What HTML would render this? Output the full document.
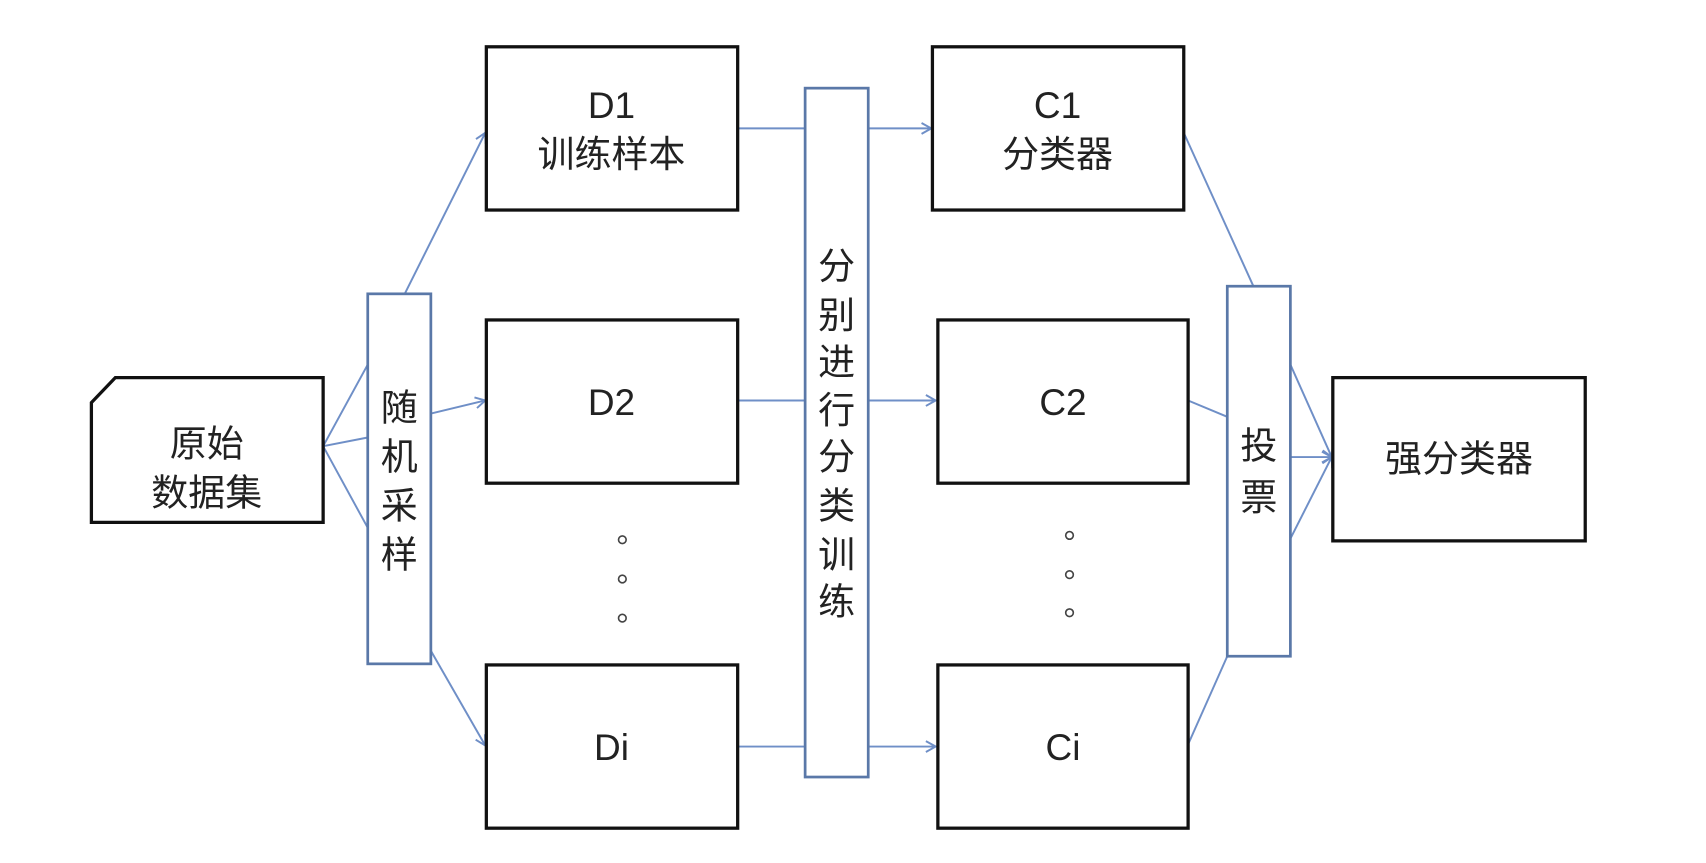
<!DOCTYPE html>
<html><head><meta charset="utf-8"><style>
html,body{margin:0;padding:0;background:#fff}
svg{display:block}
text{font-family:"Liberation Sans","Noto Sans CJK SC",sans-serif;fill:#222;text-anchor:middle;dominant-baseline:central}
</style></head><body>
<svg width="1706" height="863" viewBox="0 0 1568 793" preserveAspectRatio="none" xmlns="http://www.w3.org/2000/svg">
<defs><marker id="a" markerWidth="12" markerHeight="12" refX="10" refY="6" orient="auto" markerUnits="userSpaceOnUse"><path d="M1,1 L10,6 L1,11" fill="none" stroke="#6f8fc7" stroke-width="1.8"/></marker></defs>
<rect width="1568" height="793" fill="#fff"/>
<g stroke="#6f8fc7" stroke-width="1.8" fill="none">
<line x1="297" y1="410" x2="338" y2="335"/><line x1="297" y1="410" x2="338" y2="402"/><line x1="297" y1="410" x2="338" y2="485"/>
<line x1="372" y1="270" x2="446" y2="122" marker-end="url(#a)"/>
<line x1="396" y1="380" x2="446" y2="368" marker-end="url(#a)"/>
<line x1="396" y1="598" x2="446" y2="685" marker-end="url(#a)"/>
<line x1="678" y1="118" x2="740" y2="118"/><line x1="798" y1="118" x2="856" y2="118" marker-end="url(#a)"/>
<line x1="678" y1="368" x2="740" y2="368"/><line x1="798" y1="368" x2="860" y2="368" marker-end="url(#a)"/>
<line x1="678" y1="686" x2="740" y2="686"/><line x1="798" y1="686" x2="860" y2="686" marker-end="url(#a)"/>
<line x1="1088" y1="122" x2="1152" y2="263"/><line x1="1092" y1="368" x2="1128" y2="383"/><line x1="1092" y1="684" x2="1128" y2="603"/>
<line x1="1186" y1="335" x2="1224" y2="420" marker-end="url(#a)"/>
<line x1="1186" y1="420" x2="1224" y2="420" marker-end="url(#a)"/>
<line x1="1186" y1="495" x2="1224" y2="420" marker-end="url(#a)"/>
</g>
<g stroke="#111" stroke-width="3" fill="#fff">
<polygon points="84,370 106,347 297,347 297,480 84,480"/>
<rect x="447" y="43" width="231" height="150"/><rect x="447" y="294" width="231" height="150"/><rect x="447" y="611" width="231" height="150"/>
<rect x="857" y="43" width="231" height="150"/><rect x="862" y="294" width="230" height="150"/><rect x="862" y="611" width="230" height="150"/>
<rect x="1225" y="347" width="232" height="150"/>
</g>
<g stroke="#5a78a8" stroke-width="2.5" fill="#fff">
<rect x="338" y="270" width="58" height="340"/><rect x="740" y="81" width="58" height="633"/><rect x="1128" y="263" width="58" height="340"/>
</g>
<g font-size="34">
<text x="190" y="408">原始</text><text x="190" y="453">数据集</text>
<text x="367" y="375">随</text><text x="367" y="420">机</text><text x="367" y="465">采</text><text x="367" y="510">样</text>
<text x="562" y="97">D1</text><text x="562" y="142">训练样本</text>
<text x="562" y="370">D2</text><text x="562" y="687">Di</text>
<text x="769" y="245">分</text><text x="769" y="290">别</text><text x="769" y="333">进</text><text x="769" y="377">行</text><text x="769" y="420">分</text><text x="769" y="465">类</text><text x="769" y="510">训</text><text x="769" y="553">练</text>
<text x="972" y="97">C1</text><text x="972" y="142">分类器</text>
<text x="977" y="370">C2</text><text x="977" y="687">Ci</text>
<text x="1157" y="410">投</text><text x="1157" y="457">票</text>
<text x="1341" y="422">强分类器</text>
</g>
<g fill="none" stroke="#444" stroke-width="1.5">
<circle cx="572" cy="496" r="3.5"/><circle cx="572" cy="532" r="3.5"/><circle cx="572" cy="568" r="3.5"/>
<circle cx="983" cy="492" r="3.5"/><circle cx="983" cy="528" r="3.5"/><circle cx="983" cy="563" r="3.5"/>
</g>
</svg>
</body></html>
